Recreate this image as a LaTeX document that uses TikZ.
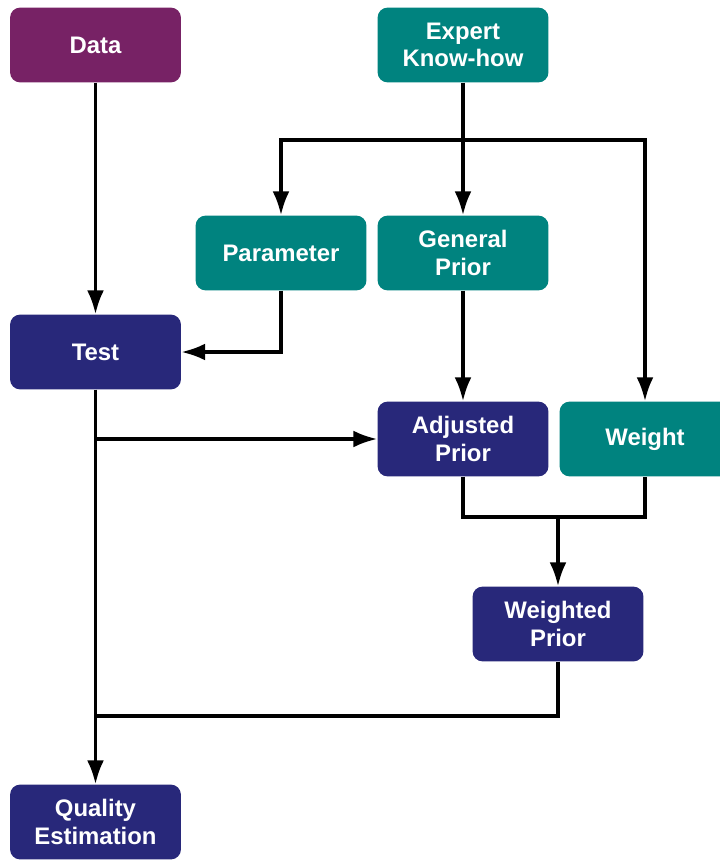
\documentclass[tikz,border=0pt]{standalone}
\usepackage{fontspec}
\setmainfont{Liberation Sans}
\usepackage{xcolor}
\usetikzlibrary{arrows.meta}
\definecolor{datapurple}{HTML}{772265}
\definecolor{expteal}{HTML}{00837F}
\definecolor{procblue}{HTML}{28287A}
\tikzset{box/.style = {shape=rectangle,rounded corners=0.25cm,minimum width=4.27cm,minimum height=1.87cm,
  text=white,align=center,font=\fontsize{17}{19.5}\selectfont\bfseries,inner sep=0pt}}
\tikzset{link/.style = {line width=2.5pt}}
\tikzset{edge/.style = {link,-{Latex[length=17pt,width=12pt]}}}

\begin{document}
\begin{tikzpicture}[x=0.025cm,y=-0.025cm]
		\clip (0,0) rectangle (720,861);
		% vertices
		\node[box,fill=datapurple] (data)     at (95.5,45)  {Data};
		\node[box,fill=expteal]    (expert)   at (463,45)   {Expert\\Know-how};
		\node[box,fill=expteal]    (param)    at (281,253)  {Parameter};
		\node[box,fill=expteal]    (general)  at (463,253)  {General\\Prior};
		\node[box,fill=procblue]   (test)     at (95.5,352) {Test};
		\node[box,fill=procblue]   (adjusted) at (463,439)  {Adjusted\\Prior};
		\node[box,fill=expteal]    (weight)   at (645,439)  {Weight};
		\node[box,fill=procblue]   (weighted) at (558,624)  {Weighted\\Prior};
		\node[box,fill=procblue]   (quality)  at (95.5,822) {Quality\\Estimation};
		\coordinate (split) at (463,140);
		\coordinate (tjoin) at (95.5,439);
		\coordinate (merge) at (558,517);
		\coordinate (qjoin) at (95.5,716);
		%edges
		\draw[edge] (data)     to (test);
		\draw[edge] (expert)   to (general);
		\draw[edge] (split)    -| (param);
		\draw[edge] (split)    -| (weight);
		\draw[edge] (param)    |- (test);
		\draw[edge] (general)  to (adjusted);
		\draw[edge] (test)     to (quality);
		\draw[edge] (tjoin)    to (adjusted);
		\draw[link] (adjusted) |- (merge) -| (weight);
		\draw[edge] (merge)    to (weighted);
		\draw[link] (weighted) |- (qjoin);
	\end{tikzpicture}
\end{document}
